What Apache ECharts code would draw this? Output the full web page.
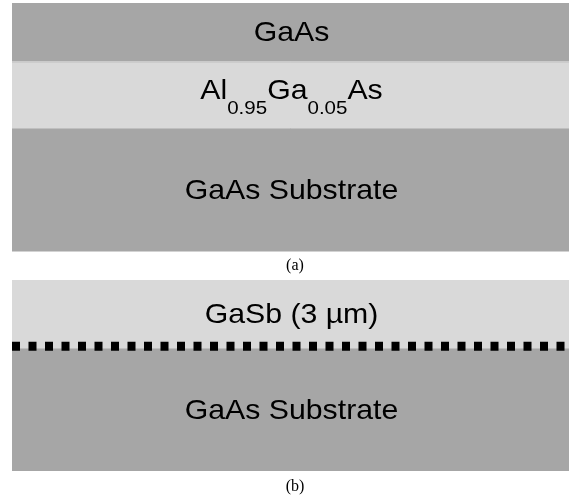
<!DOCTYPE html>
<html><head><meta charset="utf-8">
<script src="https://cdn.jsdelivr.net/npm/echarts@6/dist/echarts.min.js"></script>
<style>html,body{margin:0;padding:0;background:#fff}#c{width:569px;height:499px}</style>
</head><body><div id="c"></div>
<script>
// ---- data ----
const panelALayers = ['GaAs', 'Al0.95Ga0.05As', 'GaAs Substrate'];
const panelAThickness = [58.5, 66.5, 123.5];
const panelBLayers = ['GaSb (3 µm)', 'GaAs Substrate'];
const panelBThickness = [68, 123];
const captions = ['(a)', '(b)'];

// ---- styles ----
const DARK = '#a6a6a6', LIGHT = '#d9d9d9', EDGE = '#bfbfbf';
const SANS = '"Liberation Sans", Arial, sans-serif';
function fillFor(name) { return /^GaAs/.test(name) ? DARK : LIGHT; }
function stackLayers(th) { let acc = 0; return th.map(t => { const r = [acc, acc + t]; acc += t; return r; }); }
function sum(a) { return a.reduce((s, v) => s + v, 0); }
function richText(name) {
  return name.split(/(\d+\.\d+)/).filter(p => p !== '')
    .map(p => /^\d+\.\d+$/.test(p) ? '{s|' + p + '}' : '{n|' + p + '}').join('');
}
const rich = {
  n: { fontSize: 28, lineHeight: 30, verticalAlign: 'top', fontFamily: SANS, fill: '#000' },
  s: { fontSize: 19, lineHeight: 19, padding: [22, 0, 0, 0], verticalAlign: 'top', fontFamily: SANS, fill: '#000' }
};

function makeRender(names, dottedInterface) {
  return function (params, api) {
    const i = params.dataIndex;
    const p0 = api.coord([0, api.value(0)]);
    const p1 = api.coord([1, api.value(1)]);
    const x = p0[0], y = p0[1], w = p1[0] - p0[0], h = p1[1] - p0[1];
    const name = names[i];
    const sub = /\d+\.\d+/.test(name);
    const children = [{ type: 'rect', shape: { x: x, y: y, width: w, height: h }, style: { fill: fillFor(name) } }];
    if (i > 0) {
      children.push({ type: 'line', shape: { x1: x, y1: y + 0.5, x2: x + w, y2: y + 0.5 }, style: { stroke: EDGE, lineWidth: 1 } });
    }
    children.push({
      type: 'text', x: x + w / 2 + 1, y: y + h / 2 + (sub ? -2.5 : 2.5), scaleX: 1.08,
      style: { text: richText(name), rich: rich, align: 'center', verticalAlign: 'middle', fill: '#000', fontSize: 28, fontFamily: SANS }
    });
    if (dottedInterface && i > 0) {
      children.push({ type: 'line', shape: { x1: x, y1: y - 1.8, x2: x + w + 20, y2: y - 1.8 },
        style: { stroke: '#000', lineWidth: 9, lineDash: [8, 8.5], lineCap: 'butt' } });
    }
    return { type: 'group', children: children };
  };
}

const chart = echarts.init(document.getElementById('c'), null, { renderer: 'canvas' });
chart.setOption({
  animation: false,
  grid: [
    { left: 12, right: 0, top: 3, height: 248.5 },
    { left: 12, right: 0, top: 280, height: 191 }
  ],
  xAxis: [
    { gridIndex: 0, type: 'value', min: 0, max: 1, show: false },
    { gridIndex: 1, type: 'value', min: 0, max: 1, show: false }
  ],
  yAxis: [
    { gridIndex: 0, type: 'value', min: 0, max: sum(panelAThickness), inverse: true, show: false },
    { gridIndex: 1, type: 'value', min: 0, max: sum(panelBThickness), inverse: true, show: false }
  ],
  series: [
    { type: 'custom', xAxisIndex: 0, yAxisIndex: 0, clip: false, data: stackLayers(panelAThickness), renderItem: makeRender(panelALayers, false) },
    { type: 'custom', xAxisIndex: 1, yAxisIndex: 1, clip: false, data: stackLayers(panelBThickness), renderItem: makeRender(panelBLayers, true) }
  ],
  graphic: [
    { type: 'text', x: 295, y: 265.5, style: { text: captions[0], font: '16px "Liberation Serif", serif', align: 'center', verticalAlign: 'middle', fill: '#000' } },
    { type: 'text', x: 295, y: 487, style: { text: captions[1], font: '16px "Liberation Serif", serif', align: 'center', verticalAlign: 'middle', fill: '#000' } }
  ]
});
</script></body></html>
